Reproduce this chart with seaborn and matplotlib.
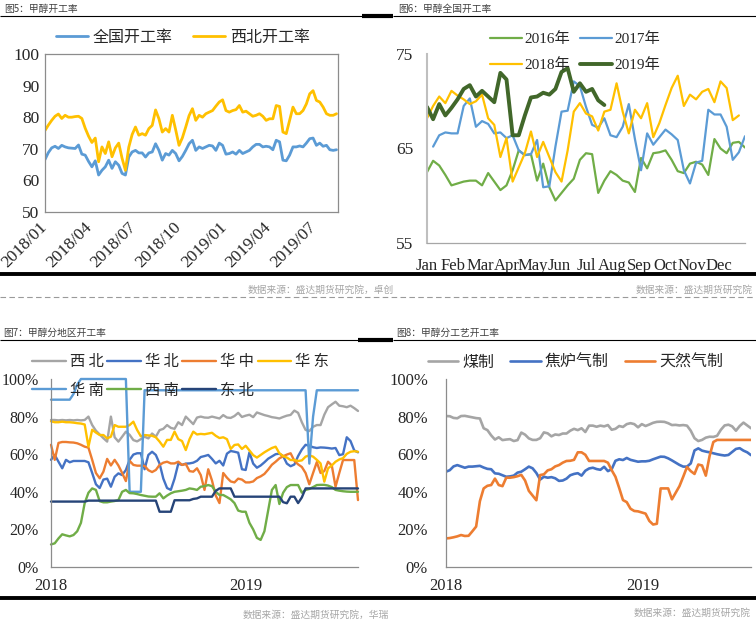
import numpy as np
import pandas as pd
import matplotlib
matplotlib.use('Agg')
import matplotlib.pyplot as plt
import seaborn as sns
from matplotlib.lines import Line2D
from matplotlib.font_manager import FontProperties

# ---------------- data ----------------
# Fig5: national vs northwest operating rate (2018/01 - 2019/08)
p1_names = ['全国开工率', '西北开工率']
p1_nat = [66.6, 68.8, 70.3, 70.8, 70.1, 71.1, 70.6, 70.3, 70.2, 70.1,
          71.2, 68.3, 68.0, 66.0, 64.3, 66.2, 61.7, 63.2, 64.3, 66.4,
          63.8, 65.9, 64.8, 62.2, 61.7, 67.4, 69.0, 69.5, 68.7, 68.7,
          67.4, 68.7, 69.0, 71.6, 69.5, 66.4, 68.5, 68.0, 69.5, 68.5,
          66.2, 67.6, 69.5, 71.6, 72.7, 69.5, 70.6, 70.1, 70.6, 71.1,
          70.9, 69.5, 71.8, 71.1, 68.3, 68.5, 69.0, 68.3, 69.5, 68.5,
          69.0, 69.5, 70.6, 71.4, 71.4, 70.6, 70.8, 70.6, 69.7, 72.7,
          72.2, 66.4, 66.2, 68.0, 70.6, 70.6, 70.9, 70.6, 71.8, 73.2,
          73.4, 71.1, 71.8, 70.8, 71.1, 69.7, 69.5, 69.7]
p1_nw = [75.8, 77.5, 79.0, 80.3, 81.0, 79.6, 80.6, 80.0, 80.0, 80.2,
         80.3, 79.6, 76.5, 74.0, 72.0, 73.4, 65.9, 70.6, 68.5, 72.2,
         67.5, 70.3, 71.8, 67.0, 63.2, 70.5, 74.5, 76.9, 74.3, 74.8,
         74.3, 76.4, 77.4, 82.3, 79.5, 75.3, 76.4, 75.3, 80.6, 76.0,
         71.1, 73.5, 76.9, 80.5, 82.7, 79.0, 80.6, 80.0, 81.1, 81.6,
         82.1, 83.5, 84.8, 85.5, 82.1, 81.6, 82.1, 82.4, 83.7, 81.6,
         81.9, 81.1, 80.3, 80.6, 81.1, 80.3, 79.0, 79.5, 79.5, 83.7,
         83.4, 75.3, 74.8, 79.0, 83.2, 81.1, 81.1, 82.1, 84.2, 87.4,
         88.4, 85.3, 84.8, 83.2, 81.1, 80.6, 80.6, 81.1]
p1_xticks = ['2018-01-01', '2018-04-01', '2018-07-01', '2018-10-01',
             '2019-01-01', '2019-04-01', '2019-07-01']
p1_xticklabels = ['2018/01', '2018/04', '2018/07', '2018/10',
                  '2019/01', '2019/04', '2019/07']
p1_yticks = [50, 60, 70, 80, 90, 100]

# Fig6: national rate by year (weekly)
p2_years = ['2016年', '2017年', '2018年', '2019年']
p2_2016 = [62.5, 63.7, 63.2, 62.2, 61.1, 61.3, 61.5, 61.6, 61.6, 61.1,
           62.4, 61.5, 60.6, 61.1, 62.7, 64.8, 64.3, 64.4, 61.6, 63.4,
           60.9, 59.5, 60.3, 61.1, 61.8, 63.8, 64.5, 64.4, 60.3, 61.6,
           62.6, 62.2, 61.6, 61.4, 60.4, 64.0, 62.9, 64.5, 64.6, 64.8,
           63.8, 62.6, 62.4, 63.4, 63.6, 63.3, 62.2, 66.0, 65.0, 64.5,
           65.6, 65.7, 65.1]
p2_2017 = [65.2, 66.4, 66.7, 66.6, 66.6, 69.5, 70.3, 67.3, 67.9, 67.6,
           66.6, 66.7, 66.1, 66.4, 64.8, 64.3, 64.4, 65.9, 60.9, 61.0,
           65.2, 68.9, 69.0, 72.1, 71.6, 69.4, 67.5, 67.2, 68.2, 66.4,
           66.2, 67.3, 69.7, 66.0, 62.7, 66.6, 65.4, 66.2, 67.0, 66.5,
           65.9, 62.7, 61.3, 63.5, 63.7, 69.1, 68.6, 68.6, 67.3, 63.8,
           64.6, 66.3]
p2_2018 = [68.2, 69.5, 70.5, 69.8, 71.1, 70.6, 70.2, 69.7, 70.0, 70.7,
           68.2, 67.5, 64.1, 66.1, 61.5, 63.0, 64.5, 66.8, 64.1, 65.7,
           64.1, 62.5, 61.5, 64.8, 68.9, 69.8, 68.7, 68.4, 66.9, 68.9,
           69.1, 71.9, 68.9, 66.6, 69.1, 68.2, 69.8, 66.2, 67.7, 69.6,
           71.4, 72.7, 69.5, 70.7, 70.2, 71.0, 71.3, 69.9, 72.1, 71.4,
           68.0, 68.5]
p2_2019 = [69.4, 68.1, 69.7, 68.5, 69.3, 70.2, 71.3, 71.7, 70.5, 71.1,
           70.5, 69.9, 73.0, 72.3, 66.4, 66.4, 68.5, 70.4, 70.5, 70.9,
           70.7, 71.3, 73.1, 73.5, 71.0, 71.9, 71.0, 71.3, 70.1, 69.6]
p2_first_week = [0, 1, 0, 0]
p2_months = ['Jan', 'Feb', 'Mar', 'Apr', 'May', 'Jun',
             'Jul', 'Aug', 'Sep', 'Oct', 'Nov', 'Dec']
p2_yticks = [55, 65, 75]

# Fig7: by region (weekly from 2018-01-01)
p3_names = ['西北', '华北', '华中', '华东', '华南', '西南', '东北']
p3_xb = [78.2, 78.2, 78.0, 78.2, 78.0, 78.2, 78.0, 78.2, 78.0, 78.2,
         80.0, 75.5, 72.5, 70.5, 68.5, 66.7, 80.0, 69.0, 66.7, 69.3,
         72.0, 70.3, 67.5, 66.8, 68.0, 69.3, 68.4, 71.0, 69.3, 72.8,
         73.5, 75.5, 74.0, 73.5, 77.0, 75.5, 80.0, 78.0, 76.0, 79.5,
         80.0, 79.5, 79.4, 80.0, 79.5, 79.0, 80.8, 79.5, 79.3, 80.3,
         82.0, 79.8, 80.5, 81.0, 79.7, 82.2, 81.5, 80.8, 80.3, 79.7,
         79.4, 79.0, 79.8, 80.5, 80.9, 83.2, 82.0, 77.0, 72.9, 72.3,
         74.6, 75.5, 75.5, 81.0, 85.0, 86.5, 87.9, 85.8, 85.5, 85.0,
         85.8, 84.5, 83.0]
p3_hb = [57.0, 59.6, 56.0, 52.5, 57.0, 55.7, 56.4, 56.4, 56.4, 56.4,
         55.7, 50.0, 44.0, 42.0, 46.5, 47.0, 42.7, 48.0, 49.8, 48.9,
         51.6, 57.0, 59.8, 60.5, 60.5, 52.0, 59.6, 61.3, 59.6, 55.0,
         47.0, 42.0, 41.0, 47.0, 55.0, 54.3, 55.0, 55.1, 55.5, 56.5,
         58.5, 59.0, 59.6, 57.5, 55.1, 56.5, 54.0, 60.3, 61.7, 61.3,
         60.8, 52.0, 51.6, 61.0, 55.0, 52.8, 54.0, 55.7, 57.6, 58.8,
         60.0, 60.3, 59.0, 55.0, 53.6, 54.5, 59.0, 62.5, 65.0, 64.5,
         63.7, 63.3, 63.6, 63.5, 63.3, 63.0, 63.3, 59.5, 60.0, 69.0,
         67.0, 62.0, 61.0]
p3_hz = [65.0, 57.0, 66.0, 66.5, 66.5, 66.3, 66.2, 65.8, 65.0, 64.0,
         63.5, 57.0, 50.0, 47.2, 50.7, 57.5, 54.0, 57.0, 54.0, 50.0,
         45.7, 56.5, 54.3, 53.9, 53.9, 53.8, 51.5, 50.5, 51.6, 54.3,
         55.5, 56.0, 55.1, 55.1, 56.0, 54.3, 54.8, 51.0, 50.7, 52.5,
         48.9, 41.0, 52.0, 46.0, 38.0, 34.0, 50.0, 47.5, 45.5, 45.0,
         47.0, 46.5, 45.0, 45.0, 45.5, 47.3, 48.2, 49.5, 51.8, 54.4,
         56.0, 57.8, 58.9, 59.8, 60.5, 56.5, 54.6, 53.2, 50.0, 44.0,
         50.0, 55.8, 50.0, 51.0, 56.0, 54.0, 42.7, 50.0, 56.9, 56.9,
         56.9, 56.9, 35.6]
p3_hd = [77.5, 77.0, 77.0, 77.3, 77.0, 77.0, 76.8, 76.5, 76.3, 75.8,
         64.0, 73.0, 71.5, 70.2, 70.2, 68.4, 69.3, 75.5, 74.6, 74.6,
         74.6, 75.5, 77.3, 72.9, 69.5, 70.2, 70.0, 69.8, 69.0, 66.7,
         64.0, 67.6, 67.6, 72.0, 68.0, 67.0, 62.2, 68.0, 72.0, 70.5,
         70.8, 70.6, 71.0, 71.4, 69.8, 68.6, 69.0, 68.0, 62.8, 64.9,
         65.2, 62.8, 64.5, 62.0, 59.5, 58.2, 59.6, 61.0, 62.2, 63.3,
         64.0, 60.5, 59.0, 58.2, 56.9, 56.9, 56.4, 56.7, 58.7, 59.4,
         58.7, 57.0, 55.1, 45.4, 52.5, 54.0, 56.0, 57.2, 57.9, 60.2,
         61.3, 61.6, 61.3]
p3_hn = [89, 89, 89, 89, 89, 89, 92, 97, 100, 100,
         100, 100, 100, 100, 100, 100, 100, 100, 100, 100,
         100, 40, 40, 40, 40, 94, 94, 94, 94, 94,
         94, 94, 94, 94, 94, 94, 94, 94, 94, 94,
         94, 94, 94, 94, 94, 94, 94, 94, 94, 94,
         94, 94, 94, 94, 94, 94, 94, 94, 94, 94,
         94, 94, 94, 94, 94, 94, 94, 94, 94, 55,
         80, 94, 94, 94, 94, 94, 94, 94, 94, 94,
         94, 94, 94]
p3_xn = [12.0, 12.6, 15.2, 17.4, 16.8, 16.3, 17.0, 19.0, 23.5, 34.0,
         39.5, 41.8, 41.0, 35.0, 34.4, 34.4, 34.8, 35.1, 35.6, 40.0,
         41.0, 39.3, 39.2, 38.8, 38.3, 37.9, 37.5, 37.4, 37.4, 39.2,
         36.5, 38.0, 39.2, 40.0, 40.3, 40.6, 41.0, 41.8, 41.5, 41.0,
         42.7, 43.0, 43.6, 43.0, 40.0, 38.3, 38.3, 37.2, 36.0, 34.0,
         30.0, 29.4, 29.4, 23.5, 20.0, 15.5, 14.4, 19.0, 30.0, 41.0,
         43.6, 33.5, 39.5, 42.5, 43.6, 43.6, 43.6, 39.5, 41.0, 41.5,
         42.5, 43.6, 43.7, 43.7, 43.3, 42.5, 41.0, 40.6, 40.3, 40.1,
         40.0, 40.0, 40.0]
p3_db = [34.8, 34.8, 34.8, 34.8, 34.8, 34.8, 34.8, 34.8, 34.8, 34.8,
         35.3, 35.3, 35.3, 35.3, 35.3, 35.3, 35.3, 35.3, 35.3, 35.3,
         35.3, 35.3, 35.3, 35.3, 35.3, 35.3, 35.3, 35.3, 35.3, 29.4,
         29.4, 29.4, 29.4, 35.5, 35.5, 35.5, 35.5, 35.5, 36.2, 36.5,
         37.4, 37.4, 37.4, 37.4, 40.5, 41.8, 41.8, 41.8, 41.8, 37.4,
         37.4, 37.4, 37.4, 37.4, 37.4, 37.4, 37.4, 37.4, 37.4, 37.4,
         37.4, 37.4, 34.5, 33.9, 37.4, 37.4, 34.0, 37.0, 41.8, 41.8,
         41.8, 41.8, 41.8, 41.8, 41.8, 41.8, 41.8, 41.8, 41.8, 41.8,
         41.8, 41.8, 41.8]
p3_colors = ['#A5A5A5', '#4472C4', '#ED7D31', '#FFC000', '#5B9BD5', '#70AD47', '#264478']
p34_xticks = ['2018-01-01', '2019-01-01']
p34_xticklabels = ['2018', '2019']
p34_yticks = [0, 20, 40, 60, 80, 100]
p34_yticklabels = ['0%', '20%', '40%', '60%', '80%', '100%']

# Fig8: by process (weekly from 2018-01-01)
p4_names = ['煤制', '焦炉气制', '天然气制']
p4_coal = [80.3, 80.2, 79.3, 79.1, 80.3, 80.4, 80.0, 79.6, 79.2, 79.0,
           73.8, 72.8, 70.0, 67.8, 69.0, 67.5, 67.8, 68.0, 67.0, 67.5,
           71.5, 70.4, 68.4, 67.6, 67.6, 68.5, 71.6, 71.1, 69.5, 70.5,
           70.2, 71.0, 71.0, 72.5, 73.5, 72.8, 73.8, 71.8, 75.2, 75.2,
           74.6, 75.2, 74.8, 75.5, 73.0, 73.5, 75.0, 74.5, 76.0, 76.5,
           76.0, 74.3, 76.0, 75.0, 75.8, 76.7, 77.2, 77.3, 77.2, 76.5,
           75.5, 75.6, 75.3, 75.5, 75.2, 72.5, 68.5, 67.0, 67.6, 68.8,
           69.3, 69.2, 69.8, 73.0, 75.3, 75.7, 74.8, 72.5, 75.0, 76.8,
           75.3, 73.8]
p4_coke = [50.7, 51.5, 53.5, 54.2, 53.5, 52.8, 53.4, 53.4, 53.6, 53.8,
           52.9, 52.2, 52.0, 49.8, 49.6, 48.8, 48.0, 48.2, 48.6, 50.2,
           50.7, 52.0, 53.4, 52.5, 50.0, 46.5, 48.0, 47.5, 47.8, 47.2,
           45.8, 46.0, 47.0, 48.8, 49.5, 49.9, 48.6, 51.2, 52.4, 52.8,
           52.1, 51.7, 53.3, 51.0, 52.0, 56.5, 57.3, 56.9, 58.0, 57.0,
           56.5, 56.0, 56.2, 56.2, 56.5, 57.3, 58.0, 58.7, 58.6, 57.8,
           56.7, 55.5, 54.3, 53.4, 53.4, 55.1, 62.0, 63.1, 61.9, 61.4,
           61.0, 60.5, 60.0, 59.6, 59.3, 59.6, 61.2, 62.8, 63.2, 61.9,
           61.0, 59.5]
p4_gas = [15.2, 15.4, 15.8, 16.3, 17.0, 16.5, 16.6, 19.0, 21.5, 35.0,
          41.8, 43.2, 43.6, 47.0, 43.6, 43.0, 47.5, 47.5, 47.8, 48.3,
          49.0, 46.0, 40.5, 38.0, 35.5, 48.9, 49.3, 51.4, 52.0, 53.5,
          54.2, 55.5, 56.4, 56.5, 57.0, 61.0, 61.0, 59.7, 56.4, 56.4,
          56.4, 56.4, 56.4, 55.5, 51.5, 48.0, 42.0, 35.6, 34.5, 31.0,
          29.8, 29.6, 29.0, 28.4, 24.5, 22.6, 23.0, 41.8, 41.8, 41.8,
          36.0, 39.5, 43.0, 48.0, 53.2, 51.0, 49.5, 54.5, 54.0, 48.6,
          59.0, 66.5, 67.6, 67.6, 67.6, 67.6, 67.6, 67.6, 67.6, 67.6,
          67.6, 67.6]
p4_colors = ['#A5A5A5', '#4472C4', '#ED7D31']

# ---------------- style ----------------
W, H = 756, 623
sns.set_style('white')
plt.rcParams['font.family'] = ['Liberation Serif', 'Noto Sans CJK SC']
CJK = ['Noto Sans CJK SC', 'DejaVu Sans']
MIX = ['Liberation Serif', 'Noto Sans CJK SC']
SPINE = '#8C8C8C'

fig = plt.figure(figsize=(W / 100, H / 100), dpi=100)


def ax_px(l, t, r, b):
    return fig.add_axes([l / W, 1 - b / H, (r - l) / W, (b - t) / H])


def hline(x0, x1, y, lw, color='black', ls='-'):
    fig.add_artist(Line2D([x0 / W, x1 / W], [1 - y / H, 1 - y / H], lw=lw,
                          color=color, ls=ls, transform=fig.transFigure,
                          solid_capstyle='butt'))


def ftext(x, y, s, **kw):
    fig.text(x / W, 1 - y / H, s, **kw)


def fig_legend(ax, handles, labels, cx, cy, **kw):
    ax.legend(handles, labels, loc='center', bbox_to_anchor=(cx / W, 1 - cy / H),
              bbox_transform=fig.transFigure, frameon=False, borderpad=0,
              borderaxespad=0, **kw)


# ---------------- Fig5 ----------------
ax1 = ax_px(45, 54, 338, 212)
d1 = pd.date_range('2018-01-01', '2019-08-17', periods=len(p1_nat))
df1 = pd.DataFrame({'date': d1, p1_names[0]: p1_nat, p1_names[1]: p1_nw})
df1 = df1.melt('date', var_name='series', value_name='rate')
sns.lineplot(data=df1, x='date', y='rate', hue='series', hue_order=p1_names,
             palette=['#5B9BD5', '#FFC000'], lw=2.0, estimator=None, ax=ax1)
ax1.set_xlim(pd.Timestamp('2018-01-01'), pd.Timestamp('2019-08-20'))
ax1.set_ylim(50, 100)
ax1.set_yticks(p1_yticks)
ax1.set_xticks(pd.to_datetime(p1_xticks))
ax1.set_xticklabels(p1_xticklabels, rotation=45, ha='right', va='center',
                    rotation_mode='anchor')
ax1.set_xlabel('')
ax1.set_ylabel('')
for s in ax1.spines.values():
    s.set_color(SPINE)
    s.set_linewidth(0.9)
ax1.tick_params(axis='y', length=3, width=0.8, color=SPINE, pad=1, labelsize=12.5)
ax1.tick_params(axis='x', length=3, width=0.8, color=SPINE, pad=6, labelsize=12.5)
h, l = ax1.get_legend_handles_labels()
fig_legend(ax1, h, l, 183, 37, ncol=2, prop=FontProperties(family=CJK, size=11.5),
           handlelength=2.0, handletextpad=0.3, columnspacing=1.3)

# ---------------- Fig6 ----------------
ax2 = ax_px(427, 54, 745, 243)
p2_vals = [p2_2016, p2_2017, p2_2018, p2_2019]
frames = []
for name, vals, w0 in zip(p2_years, p2_vals, p2_first_week):
    frames.append(pd.DataFrame({'week': np.arange(w0, w0 + len(vals)),
                                'rate': vals, 'year': name}))
df2 = pd.concat(frames, ignore_index=True)
sns.lineplot(data=df2, x='week', y='rate', hue='year', hue_order=p2_years,
             palette=['#70AD47', '#5B9BD5', '#FFC000', '#41672A'],
             size='year', size_order=p2_years,
             sizes={'2016年': 1.6, '2017年': 1.6, '2018年': 1.6, '2019年': 2.8},
             estimator=None, ax=ax2)
ax2.set_xlim(0, 52)
ax2.set_ylim(55, 75)
ax2.set_yticks(p2_yticks)
ax2.set_xticks(np.arange(len(p2_months)) * 52 / 12)
ax2.set_xticklabels(p2_months)
ax2.set_xlabel('')
ax2.set_ylabel('')
sns.despine(ax=ax2)
ax2.spines['left'].set_color('#BFBFBF')
ax2.spines['left'].set_linewidth(1.5)
ax2.spines['bottom'].set_color('#A6A6A6')
ax2.spines['bottom'].set_linewidth(0.9)
ax2.tick_params(axis='y', length=3, width=0.8, color='#BFBFBF', pad=7, labelsize=12.5)
ax2.tick_params(axis='x', length=0, pad=11, labelsize=12)
h, l = ax2.get_legend_handles_labels()
order = [0, 2, 1, 3]
fig_legend(ax2, [h[i] for i in order], [l[i] for i in order], 575, 52, ncol=2,
           prop=FontProperties(family=MIX, size=11), handlelength=2.1,
           handletextpad=0.2, columnspacing=0.6, labelspacing=0.8)

# ---------------- Fig7 ----------------
ax3 = ax_px(51, 379, 358, 567)
p3_vals = [p3_xb, p3_hb, p3_hz, p3_hd, p3_hn, p3_xn, p3_db]
d3 = pd.date_range('2018-01-01', periods=len(p3_xb), freq='7D')
df3 = pd.DataFrame({'date': d3})
for name, vals in zip(p3_names, p3_vals):
    df3[name] = vals
df3 = df3.melt('date', var_name='region', value_name='rate')
sns.lineplot(data=df3, x='date', y='rate', hue='region', hue_order=p3_names,
             palette=p3_colors, lw=1.7, estimator=None, ax=ax3, clip_on=False)
ax3.set_xlim(d3[0], d3[-1])
ax3.set_ylim(0, 100)
ax3.set_yticks(p34_yticks)
ax3.set_yticklabels(p34_yticklabels)
ax3.set_xticks(pd.to_datetime(p34_xticks))
ax3.set_xticklabels(p34_xticklabels)
ax3.set_xlabel('')
ax3.set_ylabel('')
sns.despine(ax=ax3)
for s in ['left', 'bottom']:
    ax3.spines[s].set_color(SPINE)
    ax3.spines[s].set_linewidth(0.9)
ax3.tick_params(axis='y', length=4, width=0.8, color=SPINE, pad=5, labelsize=11.5)
ax3.tick_params(axis='x', length=0, pad=8, labelsize=12)
h, l = ax3.get_legend_handles_labels()
order = [0, 4, 1, 5, 2, 6, 3]
fig_legend(ax3, [h[i] for i in order], [' '.join(l[i]) for i in order], 180.5, 376,
           ncol=4, prop=FontProperties(family=CJK, size=11), handlelength=2.2,
           handletextpad=0.25, columnspacing=0.25, labelspacing=0.75)

# ---------------- Fig8 ----------------
ax4 = ax_px(446, 379, 751, 567)
p4_vals = [p4_coal, p4_coke, p4_gas]
d4 = pd.date_range('2018-01-01', periods=len(p4_coal), freq='7D')
df4 = pd.DataFrame({'date': d4})
for name, vals in zip(p4_names, p4_vals):
    df4[name] = vals
df4 = df4.melt('date', var_name='process', value_name='rate')
sns.lineplot(data=df4, x='date', y='rate', hue='process', hue_order=p4_names,
             palette=p4_colors, lw=1.9, estimator=None, ax=ax4)
ax4.set_xlim(d4[0], d4[-1])
ax4.set_ylim(0, 100)
ax4.set_yticks(p34_yticks)
ax4.set_yticklabels(p34_yticklabels)
ax4.set_xticks(pd.to_datetime(p34_xticks))
ax4.set_xticklabels(p34_xticklabels)
ax4.set_xlabel('')
ax4.set_ylabel('')
sns.despine(ax=ax4)
for s in ['left', 'bottom']:
    ax4.spines[s].set_color(SPINE)
    ax4.spines[s].set_linewidth(0.9)
ax4.tick_params(axis='y', length=4, width=0.8, color=SPINE, pad=9, labelsize=12)
ax4.tick_params(axis='x', length=0, pad=8, labelsize=12)
h, l = ax4.get_legend_handles_labels()
fig_legend(ax4, h, l, 575.5, 362, ncol=3, prop=FontProperties(family=CJK, size=11.5),
           handlelength=1.9, handletextpad=0.25, columnspacing=1.0)

# ---------------- frame decorations ----------------
TITLE_KW = dict(fontsize=7, color='#404040', fontfamily=CJK, va='center', ha='left')
FOOT_KW = dict(fontsize=7, color='#A6A6A6', fontfamily=CJK, va='center', ha='left')
ftext(4, 9, '图5：甲醇开工率', **TITLE_KW)
ftext(398, 9, '图6：甲醇全国开工率', **TITLE_KW)
ftext(3, 333, '图7：甲醇分地区开工率', **TITLE_KW)
ftext(396, 333, '图8：甲醇分工艺开工率', **TITLE_KW)

hline(0, 362, 15.5, 0.8)
hline(362, 393, 15.5, 3.0)
hline(393, 756, 15.5, 0.8)
hline(0, 756, 274.3, 2.8)
hline(0, 756, 297.5, 0.8, color='#9A9A9A', ls=(0, (5, 3)))
hline(0, 358, 339.5, 0.8)
hline(358, 393, 339.5, 3.0)
hline(393, 756, 339.5, 0.8)
hline(0, 756, 597.5, 2.8)

ftext(248, 290, '数据来源：盛达期货研究院，卓创', **FOOT_KW)
ftext(636, 290, '数据来源：盛达期货研究院', **FOOT_KW)
ftext(243, 615, '数据来源：盛达期货研究院，华瑞', **FOOT_KW)
ftext(634, 613, '数据来源：盛达期货研究院', **FOOT_KW)

fig.savefig('out.png', dpi=100)
